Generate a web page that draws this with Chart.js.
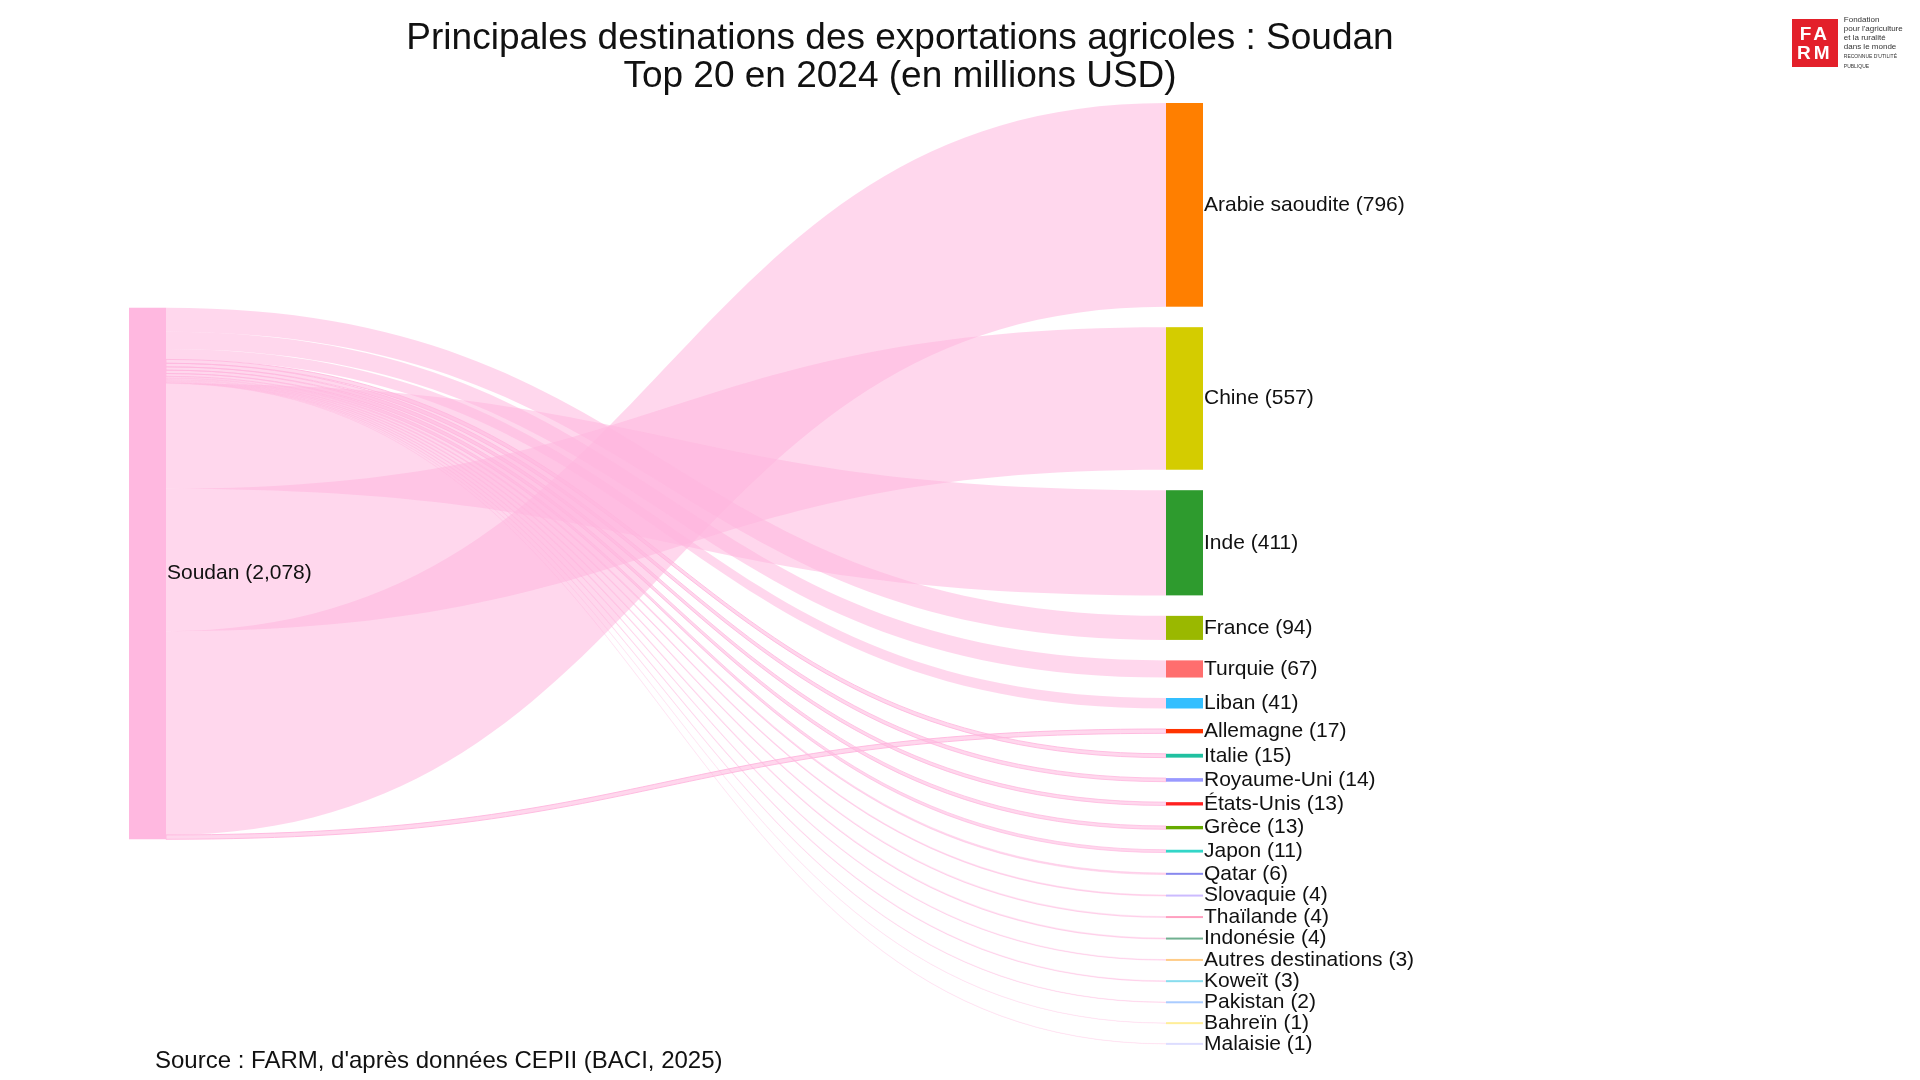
<!DOCTYPE html>
<html>
<head>
<meta charset="utf-8">
<script src="https://cdn.jsdelivr.net/npm/chart.js@4/dist/chart.umd.min.js"></script>
<style>
  html, body { margin: 0; padding: 0; background: #fff; font-family: "Liberation Sans", Arial, sans-serif; }
  #wrap { position: relative; width: 1920px; height: 1080px; }
  #title { position: absolute; left: 0; width: 1800px; top: 18px; text-align: center; font-size: 37px; line-height: 38px; color: #111; }
  #source { position: absolute; left: 155px; top: 1046px; font-size: 24px; color: #111; }
  #logo { position: absolute; left: 1792px; top: 15px; display: flex; align-items: center; }
  #logo .box { width: 48px; height: 48px; background: #e3202a; color: #fff; font-weight: bold; font-size: 19px; line-height: 19px; text-align: center; padding-top: 5px; box-sizing: border-box; letter-spacing: 3px; }
  #logo .txt { font-size: 8px; line-height: 9px; margin-left: 6px; color: #333; }
</style>
</head>
<body>
<div id="wrap">
  <canvas id="sankey" width="1920" height="1080"></canvas>
  <div id="title">Principales destinations des exportations agricoles : Soudan<br>Top 20 en 2024 (en millions USD)</div>
  <div id="source">Source : FARM, d'après données CEPII (BACI, 2025)</div>
  <div id="logo"><div class="box">FA<br>RM</div><div class="txt">Fondation<br>pour l'agriculture<br>et la ruralité<br>dans le monde<br><span style="font-size:5px">RECONNUE D'UTILITÉ PUBLIQUE</span></div></div>
</div>
<script>
'use strict';

const sourceName = 'Soudan';
const sourceLabelTotal = 2078;
const sourceColor = '#ffb8e0';
const destinations = ['Arabie saoudite', 'Chine', 'Inde', 'France', 'Turquie', 'Liban', 'Allemagne', 'Italie',
  'Royaume-Uni', 'États-Unis', 'Grèce', 'Japon', 'Qatar', 'Slovaquie', 'Thaïlande', 'Indonésie',
  'Autres destinations', 'Koweït', 'Pakistan', 'Bahreïn', 'Malaisie'];
const exportValues = [796, 557, 411, 94, 67, 41, 17, 15, 14, 13, 13, 11, 6, 4, 4, 4, 3, 3, 2, 1, 1];
const nodeColors = ['#ff7f00', '#d4cc00', '#2e9b2e', '#9ab800', '#ff6e6e', '#33bfff', '#ff3300', '#20c0a0',
  '#9999ff', '#ff2020', '#66aa00', '#33d6c8', '#8888ee', '#ccbbff', '#ffa0c0', '#70b090',
  '#ffcc88', '#88ddee', '#aaccff', '#ffee99', '#ddddff'];
// order of links leaving the source node, top to bottom
const sourceOrder = [3, 4, 5, 7, 8, 9, 10, 11, 12, 13, 14, 15, 16, 17, 18, 19, 20, 2, 1, 0, 6];

const gap = 80;
const sourceTotal = exportValues.reduce((a, b) => a + b, 0);
const span = sourceTotal + gap * (destinations.length - 1);

const sankeyPlugin = {
  id: 'sankey',
  afterDraw(chart) {
    const ctx = chart.ctx;
    const xs = chart.scales.x;
    const ys = chart.scales.y;
    const nodeW = 37;
    const sx0 = xs.getPixelForValue(0);
    const tx1 = xs.getPixelForValue(1);
    const tx0 = tx1 - nodeW;
    const sStart = (span - sourceTotal) / 2;

    const tPos = [];
    let acc = 0;
    for (let i = 0; i < destinations.length; i++) {
      tPos.push(acc);
      acc += exportValues[i] + gap;
    }
    const sPos = [];
    let sAcc = sStart;
    for (const i of sourceOrder) {
      sPos[i] = sAcc;
      sAcc += exportValues[i];
    }

    ctx.save();
    const x0 = sx0 + nodeW;
    const mx = (x0 + tx0) / 2;
    for (let i = 0; i < destinations.length; i++) {
      const a0 = ys.getPixelForValue(sPos[i]);
      const a1 = ys.getPixelForValue(sPos[i] + exportValues[i]);
      const b0 = ys.getPixelForValue(tPos[i]);
      const b1 = ys.getPixelForValue(tPos[i] + exportValues[i]);
      ctx.beginPath();
      ctx.moveTo(x0, a0);
      ctx.bezierCurveTo(mx, a0, mx, b0, tx0, b0);
      ctx.lineTo(tx0, b1);
      ctx.bezierCurveTo(mx, b1, mx, a1, x0, a1);
      ctx.closePath();
      ctx.fillStyle = 'rgba(255,182,222,0.55)';
      ctx.fill();
      if (exportValues[i] < 20) {
        ctx.strokeStyle = 'rgba(255,182,222,' + Math.min(0.9, 0.1 + exportValues[i] / 20) + ')';
        ctx.lineWidth = 1;
        ctx.stroke();
      }
    }

    const s0 = ys.getPixelForValue(sStart);
    const s1 = ys.getPixelForValue(sStart + sourceTotal);
    ctx.fillStyle = sourceColor;
    ctx.fillRect(sx0, s0, nodeW, s1 - s0);
    ctx.font = '21px "Liberation Sans", Arial, sans-serif';
    ctx.fillStyle = '#111';
    ctx.textBaseline = 'middle';
    ctx.fillText(sourceName + ' (' + sourceLabelTotal.toLocaleString('en-US') + ')', x0 + 1, (s0 + s1) / 2);

    for (let i = 0; i < destinations.length; i++) {
      const y0 = ys.getPixelForValue(tPos[i]);
      const y1 = ys.getPixelForValue(tPos[i] + exportValues[i]);
      const h = Math.max(y1 - y0, 2);
      const yc = (y0 + y1) / 2;
      ctx.fillStyle = nodeColors[i];
      ctx.fillRect(tx0, yc - h / 2, nodeW, h);
      ctx.fillStyle = '#111';
      ctx.fillText(destinations[i] + ' (' + exportValues[i] + ')', tx1 + 1, yc);
    }
    ctx.restore();
  }
};

new Chart(document.getElementById('sankey'), {
  type: 'scatter',
  data: { datasets: [{ data: [] }] },
  options: {
    responsive: false,
    animation: false,
    layout: { padding: { left: 129, right: 717, top: 103, bottom: 36 } },
    plugins: { legend: { display: false }, tooltip: { enabled: false } },
    scales: {
      x: { type: 'linear', min: 0, max: 1, display: false },
      y: { type: 'linear', min: 0, max: span, reverse: true, display: false }
    }
  },
  plugins: [sankeyPlugin]
});
</script>
</body>
</html>
